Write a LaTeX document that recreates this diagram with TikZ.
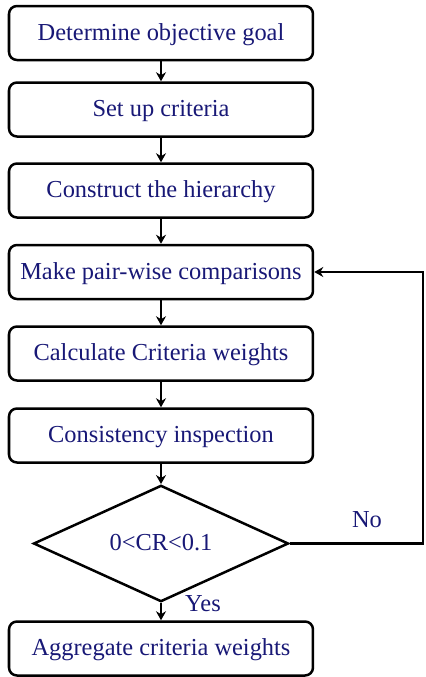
\documentclass[tikz,border=0pt]{standalone}
\usepackage{fontspec}
\setmainfont{Liberation Serif}
\usetikzlibrary{shapes.geometric,arrows.meta}
\definecolor{txtblue}{RGB}{24,24,118}
\begin{document}
\begin{tikzpicture}[x=0.5pt,y=-0.5pt,
  basefont/.style={text=txtblue, font=\fontsize{12.2}{14}\selectfont},
  stepbox/.style={basefont, draw=black, line width=1.25pt, rounded corners=4pt,
    minimum width=152pt, minimum height=27pt, inner sep=0pt,
    text height=0.72em, text depth=0pt},
  decision/.style={basefont, draw=black, diamond, line width=1.25pt,
    minimum width=127.5pt, minimum height=53.5pt, inner sep=0pt,
    text height=0.68em, text depth=0pt},
  flow/.style={draw=black, line width=1.25pt, -{Stealth[length=4.5pt,width=5pt]}},
  lbl/.style={basefont, inner sep=0pt}]
  \useasboundingbox (0,0) rectangle (425,677);

  \node[stepbox] (goal)  at (161,33)    {Determine objective goal};
  \node[stepbox] (crit)  at (161,109.5) {Set up criteria};
  \node[stepbox] (hier)  at (161,190.5) {Construct the hierarchy};
  \node[stepbox] (pair)  at (161,272)   {Make pair-wise comparisons};
  \node[stepbox] (calc)  at (161,353.5) {Calculate Criteria weights};
  \node[stepbox] (cons)  at (161,435.5) {Consistency inspection};
  \node[decision] (cr)   at (161,543.5) {0<CR<0.1};
  \node[stepbox] (aggr)  at (161,648.5) {Aggregate criteria weights};

  \draw[flow] (goal) -- (crit);
  \draw[flow] (crit) -- (hier);
  \draw[flow] (hier) -- (pair);
  \draw[flow] (pair) -- (calc);
  \draw[flow] (calc) -- (cons);
  \draw[flow] (cons) -- (cr);
  \draw[flow] (cr) -- (aggr);

  % feedback loop when the ratio is out of range
  \coordinate (back) at (423,543.5);
  \draw[flow] (cr.east) -- (back) |- (pair.east);

  \node[lbl] (no)  at (367,520) {No};
  \node[lbl] (yes) at (203,604) {Yes};
\end{tikzpicture}
\end{document}
